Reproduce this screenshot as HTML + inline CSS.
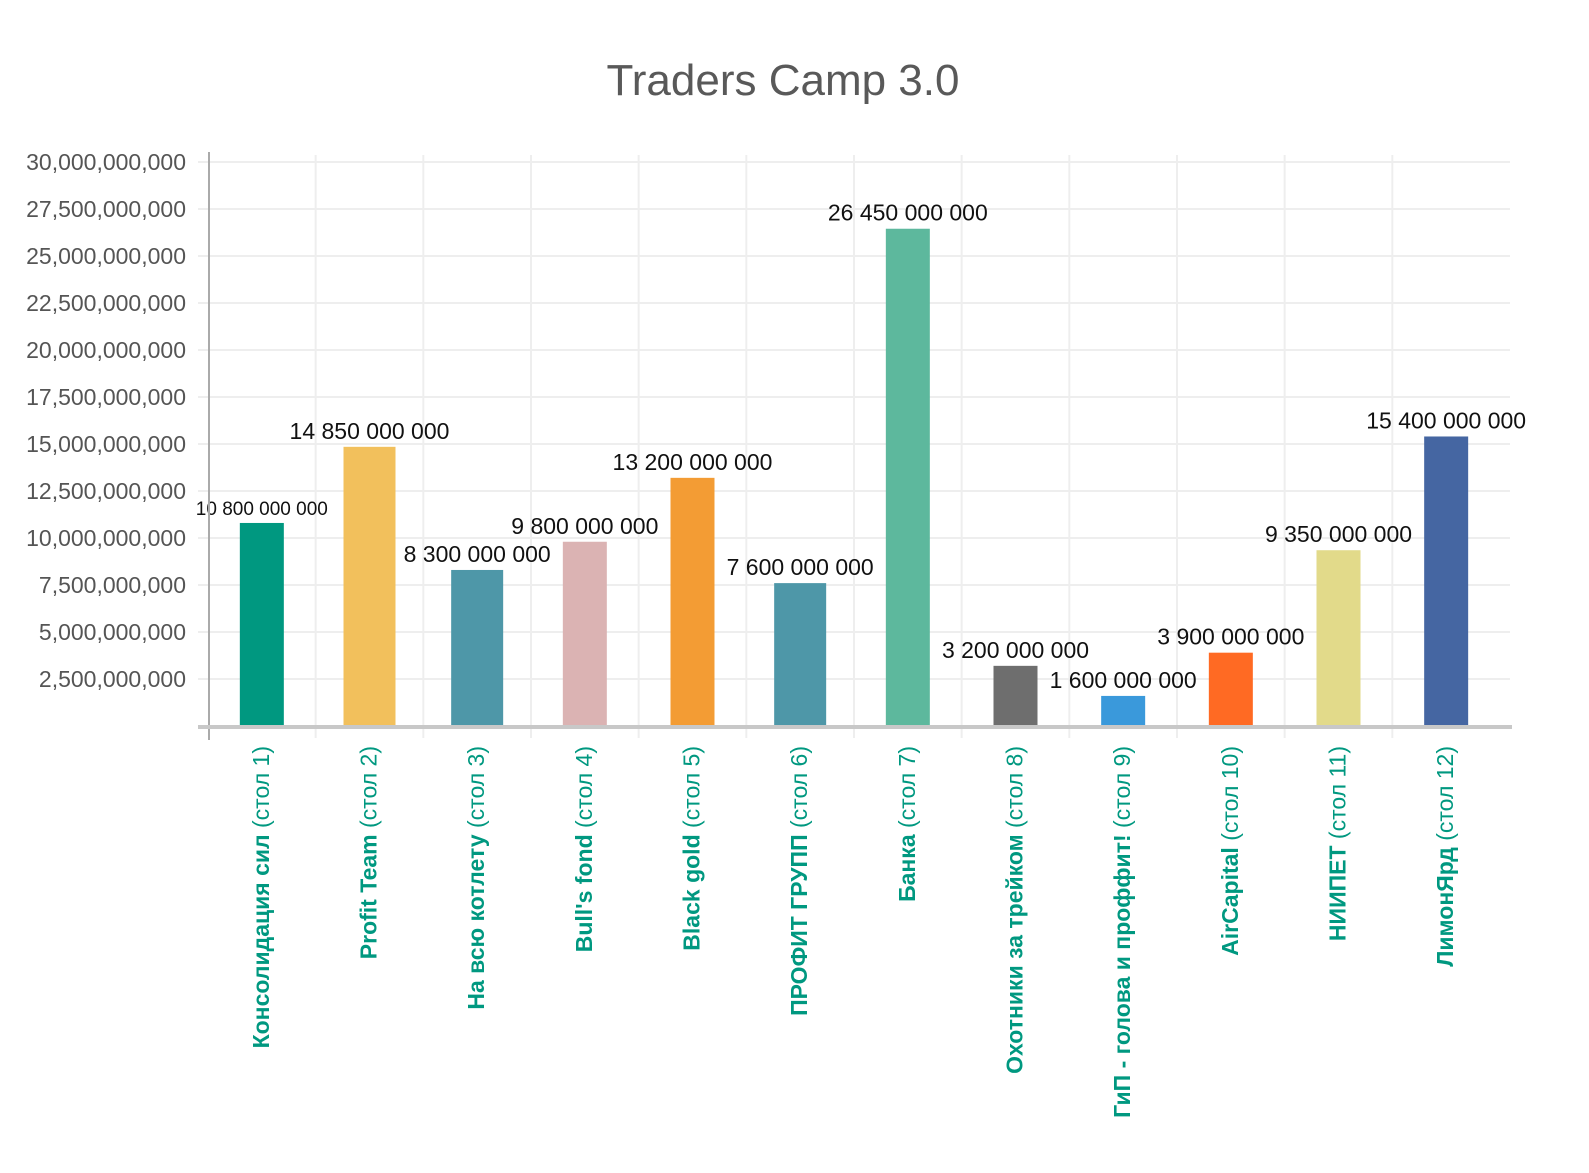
<!DOCTYPE html>
<html><head><meta charset="utf-8">
<style>
html,body{margin:0;padding:0;background:#fff;}
svg{display:block;font-family:"Liberation Sans","DejaVu Sans",sans-serif;}
</style></head>
<body>
<svg id="chart" width="1589" height="1173" viewBox="0 0 1589 1173" xmlns="http://www.w3.org/2000/svg">
<text x="783" y="95" text-anchor="middle" font-size="44" fill="#595959">Traders Camp 3.0</text>
<g id="grid"></g>
<g id="bars"></g>
<g id="labels"></g>
<g id="yaxis"></g>
<g id="xaxis"></g>
</svg>
<script>
const categories = ["Консолидация сил","Profit Team","На всю котлету","Bull's fond","Black gold","ПРОФИТ ГРУПП","Банка","Охотники за трейком","ГиП - голова и проффит!","AirCapital","НИИПЕТ","ЛимонЯрд"];
const tables = ["(стол 1)","(стол 2)","(стол 3)","(стол 4)","(стол 5)","(стол 6)","(стол 7)","(стол 8)","(стол 9)","(стол 10)","(стол 11)","(стол 12)"];
const values = [10800000000,14850000000,8300000000,9800000000,13200000000,7600000000,26450000000,3200000000,1600000000,3900000000,9350000000,15400000000];
const valueLabels = ["10 800 000 000","14 850 000 000","8 300 000 000","9 800 000 000","13 200 000 000","7 600 000 000","26 450 000 000","3 200 000 000","1 600 000 000","3 900 000 000","9 350 000 000","15 400 000 000"];
const colors = ["#009880","#F2C05C","#4E97A8","#DBB3B3","#F39C34","#4E97A8","#5DB89D","#6E6E6E","#3A99DB","#FF6A23","#E2DA8A","#4566A2"];
const yTicks = [2500000000,5000000000,7500000000,10000000000,12500000000,15000000000,17500000000,20000000000,22500000000,25000000000,27500000000,30000000000];

const NS="http://www.w3.org/2000/svg";
const X0=208,X1=1500,Y0=726,Y1=162,YMAX=30000000000;
const band=(X1-X0)/categories.length;
function xC(i){return X0+band*(i+0.5);}
function yS(v){return Y0-(v/YMAX)*(Y0-Y1);}
function mk(tag,attrs,parent){const e=document.createElementNS(NS,tag);for(const k in attrs)e.setAttribute(k,attrs[k]);parent.appendChild(e);return e;}
const grid=document.getElementById('grid'),bars=document.getElementById('bars'),labels=document.getElementById('labels'),yaxis=document.getElementById('yaxis'),xaxis=document.getElementById('xaxis');
function fmt(v){return v.toString().replace(/\B(?=(\d{3})+(?!\d))/g,",");}

yTicks.forEach(t=>{
  const y=yS(t);
  const g=mk('line',{x1:198,x2:1510,y1:y,y2:y,stroke:'#eeeeee','stroke-width':2},grid);
  
  
  const tx=mk('text',{x:186,y:y+8,'text-anchor':'end','font-size':23,fill:'#555'},yaxis);
  tx.textContent=fmt(t);
  
  
});
for(let i=1;i<categories.length;i++){
  const x=X0+band*i;
  const g=mk('line',{x1:x,x2:x,y1:155,y2:738,stroke:'#eeeeee','stroke-width':2},grid);
  
  
}
const ya=mk('line',{x1:209,x2:209,y1:152,y2:740,stroke:'#aaa','stroke-width':2},yaxis);



values.forEach((v,i)=>{
  const w=(i===1||i===2||i===5)?52:44;
  const y=yS(v);
  const r=mk('rect',{x:xC(i)-w/2,y:y,width:w,height:Y0-y,fill:colors[i]},bars);
  
  
  const t=mk('text',{x:xC(i),y:y-8,'text-anchor':'middle','font-size':i===0?19:23,fill:'#111'},labels);
  t.textContent=valueLabels[i];
  
  
  const cx=xC(i)+7, cy=746;
  const lt=mk('text',{x:0,y:0,'text-anchor':'end','font-size':23,fill:'#009880',transform:'translate('+cx+','+cy+') rotate(-90)'},xaxis);
  const s1=mk('tspan',{'font-weight':'bold'},lt);s1.textContent=categories[i]+' ';
  const s2=mk('tspan',{},lt);s2.textContent=tables[i];
  
  
});
const xa=mk('line',{x1:198,x2:1512,y1:727,y2:727,stroke:'#c8c8c8','stroke-width':4},xaxis);


</script>
</body></html>
